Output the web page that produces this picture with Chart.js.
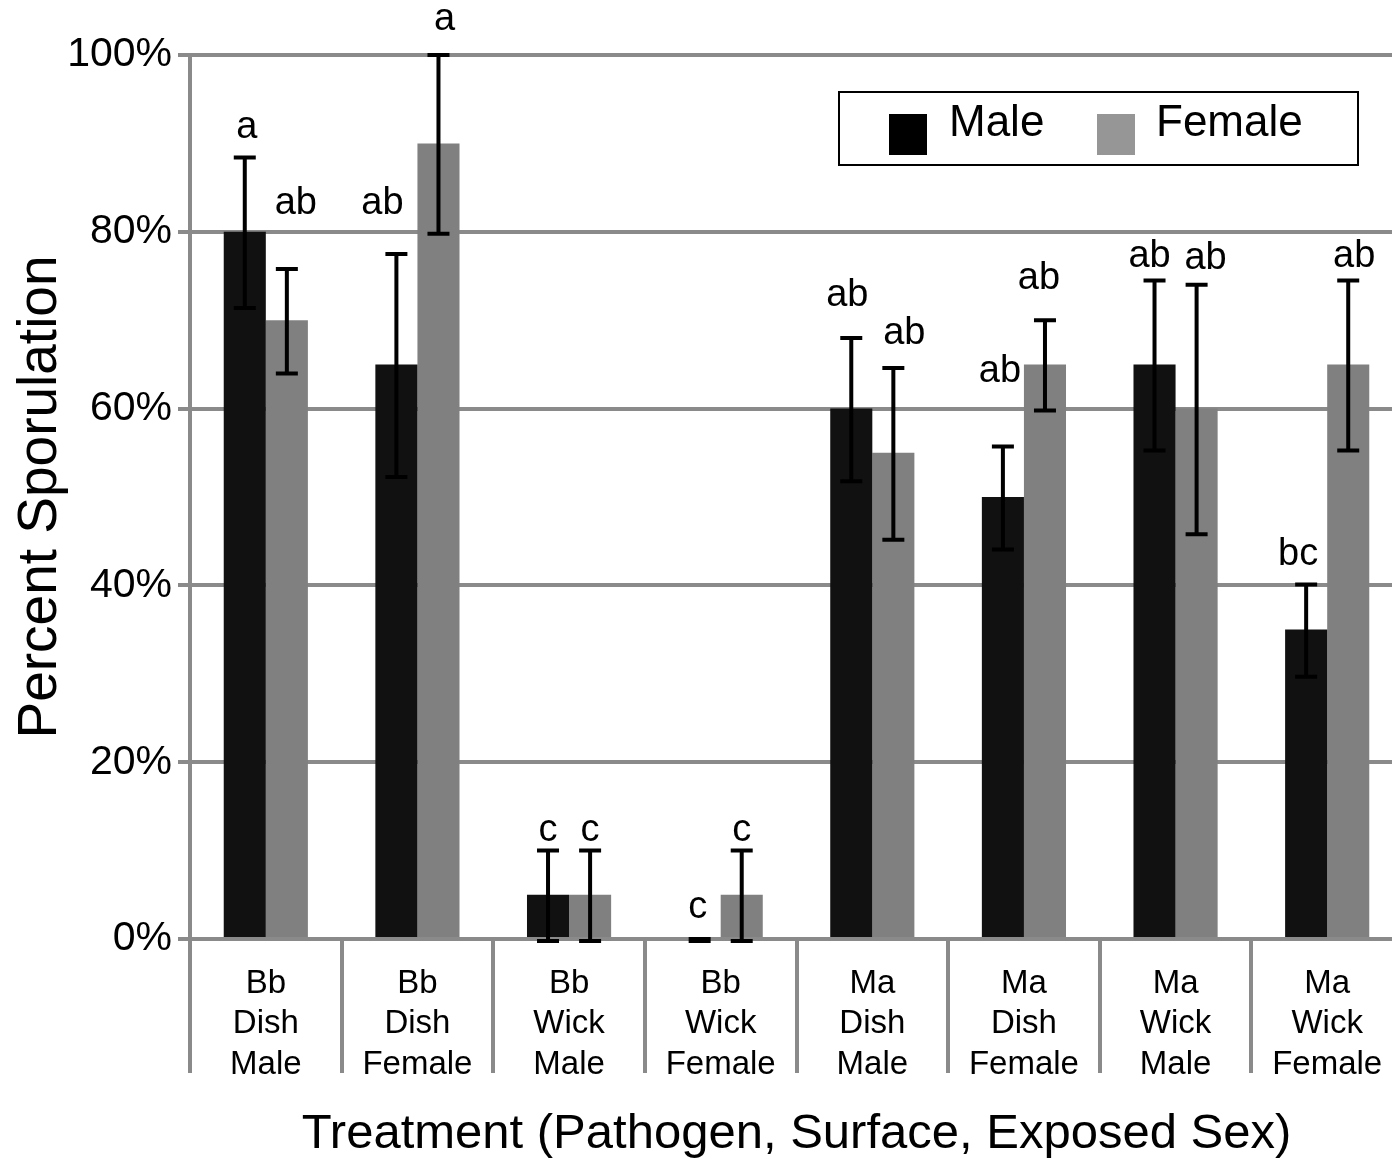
<!DOCTYPE html>
<html lang="en">
<head>
<meta charset="UTF-8">
<title>Percent Sporulation by Treatment</title>
<style>
  html, body { margin: 0; padding: 0; background: #fff; overflow: hidden; }
  #wrap { width: 1403px; height: 1159px; }
</style>
</head>
<body>
<div id="wrap"><canvas id="chart" width="1403" height="1159"></canvas></div>
<script src="https://cdn.jsdelivr.net/npm/chart.js"></script>
<script>
// data
const categories = [
  ['Bb', 'Dish', 'Male'], ['Bb', 'Dish', 'Female'], ['Bb', 'Wick', 'Male'], ['Bb', 'Wick', 'Female'],
  ['Ma', 'Dish', 'Male'], ['Ma', 'Dish', 'Female'], ['Ma', 'Wick', 'Male'], ['Ma', 'Wick', 'Female']
];
const maleValues = [80, 65, 5, 0, 60, 50, 65, 35];
const femaleValues = [70, 90, 5, 5, 55, 65, 60, 65];
const maleErrors = [8.4, 12.5, 5, 0, 8, 5.7, 9.5, 5.1];
const femaleErrors = [5.8, 10, 5, 5, 9.6, 5, 14, 9.5];
const maleLetters = ['a', 'ab', 'c', 'c', 'ab', 'ab', 'ab', 'bc'];
const femaleLetters = ['ab', 'a', 'c', 'c', 'ab', 'ab', 'ab', 'ab'];

const FONT = 'Liberation Sans, Arial, sans-serif';
const GRID = '#8a8a8a';

// hand-placed nudges of the letter labels (px above error bar top, px sideways)
const letterLift = [[30, 65], [50, 35], [20, 20], [31, 20], [42, 34], [75, 42], [24, 26], [30, 24]];
const letterShift = [[2, 9], [-14, 6], [0, 0], [-2, 0], [-4, 11], [-3, -6], [-5, 9], [-8, 6]];

const errorPlugin = {
  id: 'errorBars',
  afterDatasetsDraw(chart) {
    const ctx = chart.ctx;
    const y = chart.scales.y;
    const errs = [maleErrors, femaleErrors];
    const letters = [maleLetters, femaleLetters];
    ctx.save();
    chart.data.datasets.forEach((ds, di) => {
      const meta = chart.getDatasetMeta(di);
      meta.data.forEach((bar, i) => {
        const v = ds.data[i];
        const e = errs[di][i];
        const top = y.getPixelForValue(v + e);
        const bot = y.getPixelForValue(v - e);
        const x = bar.x;
        ctx.strokeStyle = '#000';
        ctx.lineWidth = 4;
        ctx.beginPath();
        ctx.moveTo(x, top); ctx.lineTo(x, bot);
        ctx.moveTo(x - 11, top); ctx.lineTo(x + 11, top);
        ctx.moveTo(x - 11, bot + 2); ctx.lineTo(x + 11, bot + 2);
        ctx.stroke();
        ctx.fillStyle = '#000';
        ctx.font = '38px ' + FONT;
        ctx.textAlign = 'center';
        ctx.textBaseline = 'middle';
        ctx.fillText(letters[di][i], x + letterShift[i][di], top - letterLift[i][di]);
      });
    });
    ctx.restore();
  }
};

const legendPlugin = {
  id: 'boxLegend',
  afterDraw(chart) {
    const ctx = chart.ctx;
    ctx.save();
    ctx.strokeStyle = '#000';
    ctx.lineWidth = 2;
    ctx.strokeRect(839, 92, 519, 73);
    const items = [
      { label: chart.data.datasets[0].label, color: '#000000', sx: 889, tx: 949 },
      { label: chart.data.datasets[1].label, color: '#969696', sx: 1097, tx: 1156 }
    ];
    ctx.font = '44px ' + FONT;
    ctx.textBaseline = 'middle';
    ctx.textAlign = 'left';
    items.forEach(it => {
      ctx.fillStyle = it.color;
      ctx.fillRect(it.sx, 114, 38, 41);
      ctx.fillStyle = '#000';
      ctx.fillText(it.label, it.tx, 124);
    });
    ctx.restore();
  }
};

new Chart(document.getElementById('chart'), {
  type: 'bar',
  data: {
    labels: categories,
    datasets: [
      { label: 'Male', data: maleValues, backgroundColor: '#111111', categoryPercentage: 0.555, barPercentage: 1.0 },
      { label: 'Female', data: femaleValues, backgroundColor: '#808080', categoryPercentage: 0.555, barPercentage: 1.0 }
    ]
  },
  options: {
    responsive: false,
    animation: false,
    layout: { padding: { top: 55, right: 0, bottom: 0, left: 0 } },
    plugins: { legend: { display: false }, tooltip: { enabled: false } },
    scales: {
      x: {
        afterFit(scale) { scale.height = 220; },
        grid: { display: true, drawOnChartArea: false, drawTicks: true, tickLength: 134, color: GRID, lineWidth: 4 },
        border: { display: true, color: GRID, width: 4 },
        ticks: { color: '#000', font: { family: FONT, size: 33, lineHeight: 1.22 }, padding: -109, maxRotation: 0, autoSkip: false },
        title: { display: true, text: 'Treatment (Pathogen, Surface, Exposed Sex)', color: '#000',
                 font: { family: FONT, size: 49, lineHeight: 1.0 }, padding: { top: 0, bottom: 0 } }
      },
      y: {
        min: 0, max: 100,
        afterFit(scale) { scale.width = 190; },
        grid: { color: GRID, lineWidth: 4, tickLength: 12 },
        border: { display: true, color: GRID, width: 4 },
        ticks: { stepSize: 20, color: '#000', font: { family: FONT, size: 41 }, padding: 6,
                 callback: v => v + '%' },
        title: { display: true, text: 'Percent Sporulation', color: '#000',
                 font: { family: FONT, size: 55 }, padding: { top: 8, bottom: 0 } }
      }
    }
  },
  plugins: [errorPlugin, legendPlugin]
});
</script>
</body>
</html>
